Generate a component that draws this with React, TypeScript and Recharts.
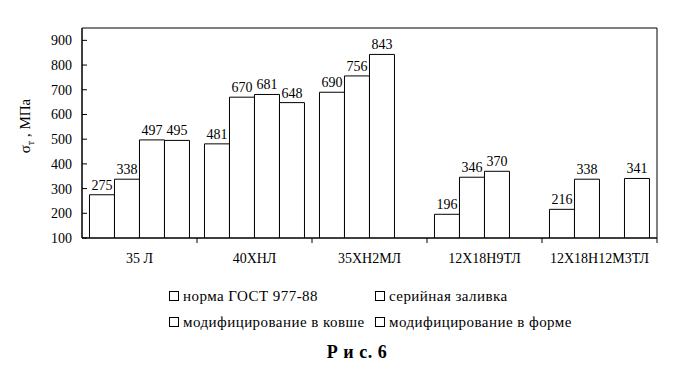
import React from 'react';
import { BarChart, Bar, XAxis, YAxis, LabelList, ReferenceArea } from 'recharts';

const categories = ['35 Л', '40ХНЛ', '35ХН2МЛ', '12Х18Н9ТЛ', '12Х18Н12М3ТЛ'];
const seriesNames = ['норма ГОСТ 977-88', 'серийная заливка', 'модифицирование в ковше', 'модифицирование в форме'];
const norma = [275, 481, 690, 196, 216];
const serial = [338, 670, 756, 346, 338];
const kovsh = [497, 681, 843, 370, null];
const forma = [495, 648, null, null, 341];
const yTicks = [100, 200, 300, 400, 500, 600, 700, 800, 900];

const data = categories.map((c, i) => ({ name: c, s0: norma[i], s1: serial[i], s2: kovsh[i], s3: forma[i] }));

const FONT = "'Liberation Serif', 'Times New Roman', serif";

const XTick = (props: any) => {
  const { x, y, payload } = props;
  const off = payload.offset || 0;
  return (
    <g>
      <line x1={x + off} y1={y - 8} x2={x + off} y2={y - 3} stroke="#000" />
      <text x={x} y={y + 17} textAnchor="middle" style={{ fontFamily: FONT }} fontSize={14} fill="#000">{payload.value}</text>
    </g>
  );
};

const YTick = (props: any) => {
  const { x, y, payload } = props;
  return (
    <g>
      <line x1={x + 10} y1={y} x2={x + 15} y2={y} stroke="#000" />
      <text x={x} y={y + 5} textAnchor="end" style={{ fontFamily: FONT }} fontSize={14} fill="#000">{payload.value}</text>
    </g>
  );
};

const YLabel = (props: any) => {
  const vb = props.viewBox;
  const cx = 30;
  const cy = vb.y + vb.height / 2 - 7;
  return (
    <text x={cx} y={cy} transform={`rotate(-90 ${cx} ${cy})`} textAnchor="middle" style={{ fontFamily: FONT }} fontSize={15} fill="#000">
      σ<tspan fontSize={10} dy={4}>т</tspan><tspan dy={-4}> , МПа</tspan>
    </text>
  );
};

const LegendBlock = () => {
  const item = (t: string) => (
    <div style={{ display: 'flex', alignItems: 'center', whiteSpace: 'nowrap', height: 16 }}>
      <span style={{ display: 'inline-block', width: 8, height: 8, border: '1px solid #000', marginRight: 4 }} />
      <span>{t}</span>
    </div>
  );
  return (
    <div style={{ position: 'absolute', left: 169, top: 288, fontFamily: FONT, fontSize: 15, letterSpacing: 0.45, color: '#000' }}>
      <div style={{ display: 'grid', gridTemplateColumns: '206px auto', rowGap: 10 }}>
        {item(seriesNames[0])}
        {item(seriesNames[1])}
        {item(seriesNames[2])}
        {item(seriesNames[3])}
      </div>
    </div>
  );
};

export default function App() {
  return (
    <div style={{ position: 'absolute', left: 0, top: 0, width: 673, height: 373, background: '#fff' }}>
      <BarChart width={673} height={373} data={data} margin={{ top: 28, right: 16, bottom: 105, left: 32 }}
        barCategoryGap="6.5%" barGap={0}>
        <XAxis dataKey="name" height={30} axisLine={{ stroke: '#000' }} tickLine={false} tick={<XTick />} interval={0} />
        <YAxis width={50} domain={[100, 950]} ticks={yTicks} interval={0} allowDataOverflow axisLine={{ stroke: '#000' }}
          tickLine={false} tickSize={0} tickMargin={10} tick={<YTick />} label={<YLabel />} />
        <ReferenceArea y1={100} y2={950} fill="none" stroke="#000" strokeWidth={1} ifOverflow="extendDomain" />
        {['s0', 's1', 's2', 's3'].map((k, i) => (
          <Bar key={k} dataKey={k} name={seriesNames[i]} fill="#fff" stroke="#000" strokeWidth={1} isAnimationActive={false}>
            <LabelList dataKey={k} position="top" offset={5} style={{ fontFamily: FONT, fontSize: 14, fill: '#000' }} />
          </Bar>
        ))}
      </BarChart>
      <LegendBlock />
      <div style={{ position: 'absolute', left: 0, width: 714, top: 342, textAlign: 'center', fontFamily: FONT, fontWeight: 'bold', fontSize: 18, letterSpacing: 0.5 }}>
        Р и с. 6
      </div>
    </div>
  );
}
